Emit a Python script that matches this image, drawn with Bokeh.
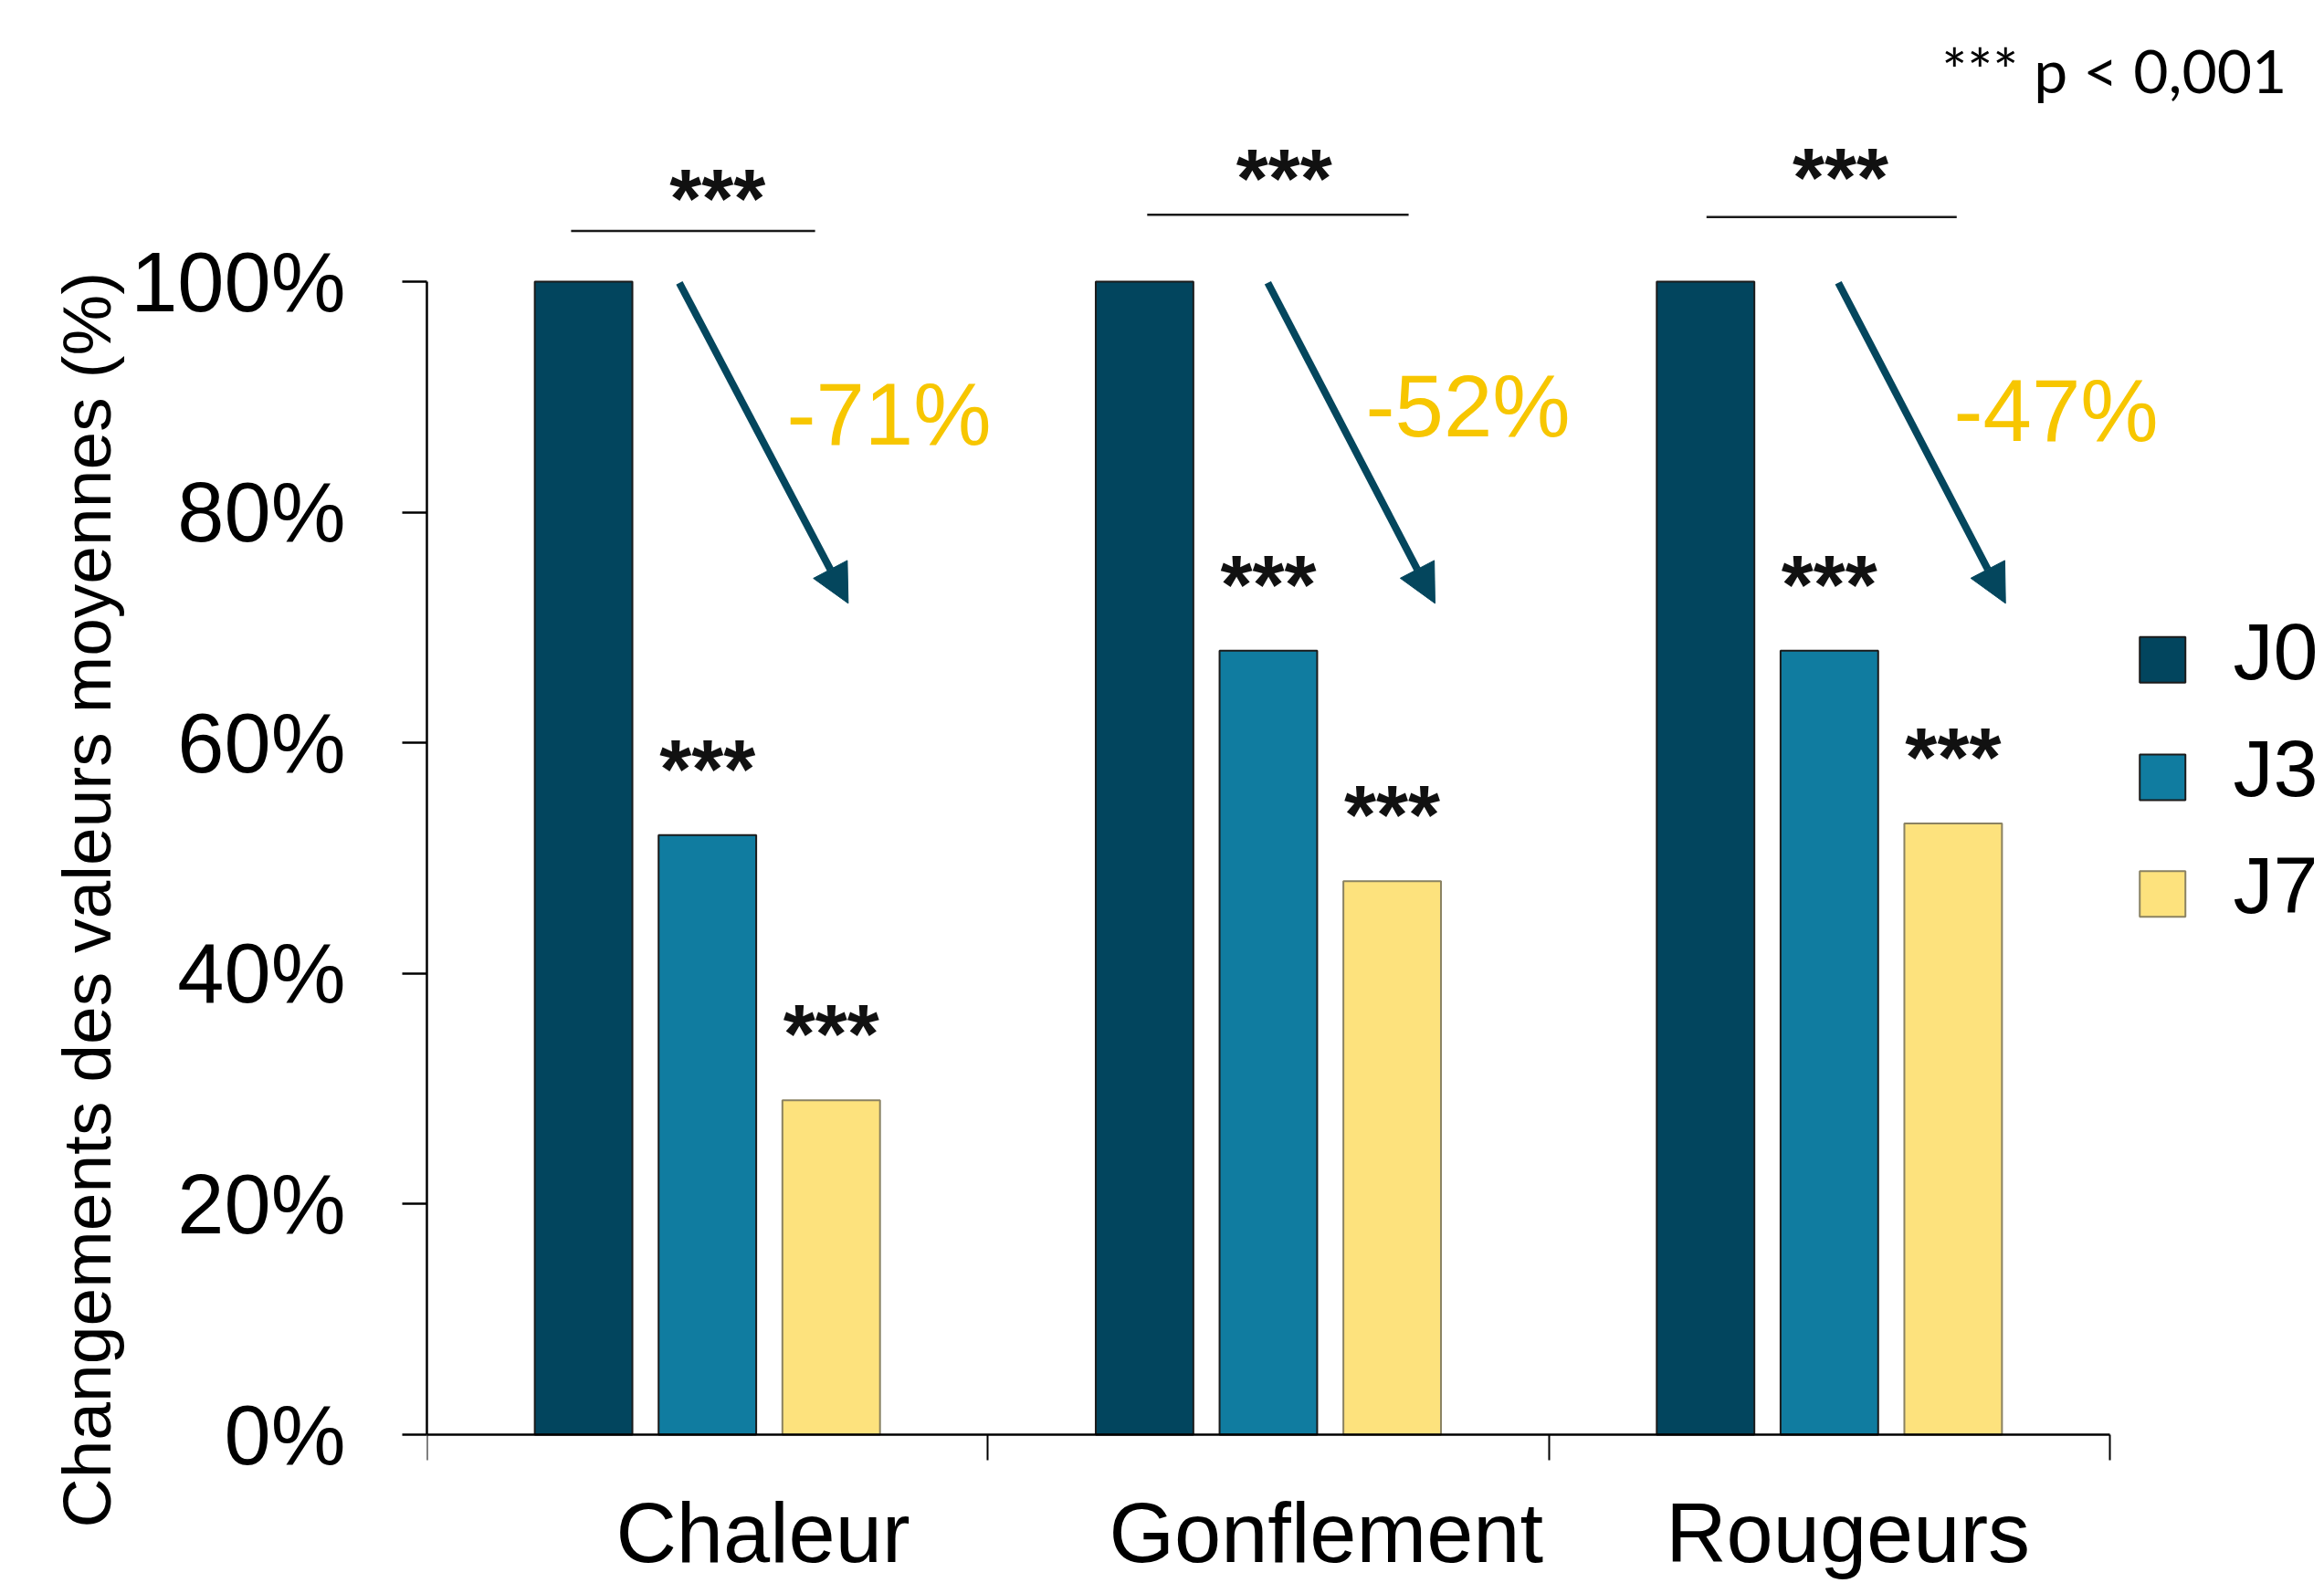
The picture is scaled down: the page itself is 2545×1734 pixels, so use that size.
import math
from bokeh.plotting import figure
from bokeh.models import (Range1d, FixedTicker, PrintfTickFormatter, ColumnDataSource,
                          Arrow, NormalHead, Title)
from bokeh.core.properties import value
from bokeh.embed import file_html
from bokeh.resources import INLINE

# ---------------- data ----------------
categories = ["Chaleur", "Gonflement", "Rougeurs"]
series = ["J0", "J3", "J7"]
j0 = [100, 100, 100]
j3 = [52, 68, 68]
j7 = [29, 48, 53]
y_ticks = [0, 20, 40, 60, 80, 100]
reductions = ["-71%", "-52%", "-47%"]
sig = "***"
p_note = "*** p < 0,001"
y_title = "Changements des valeurs moyennes (%)"

# ---------------- layout ----------------
W, H = 2545, 1734
LEFT = 467            # frame left (y axis line)
X_PX = 614.33         # px per category
Y_PX = 12.63          # px per percent
Y0_PX = 1571          # screen y of 0 %
x_end = (W - LEFT) / X_PX
y_end = Y0_PX / Y_PX
y_start = -(H - Y0_PX) / Y_PX

FONT = "Liberation Sans"
fills = ["#02455E", "#107CA0", "#FDE27D"]
lines = ["#1b1b1b", "#1b1b1b", "#8a8262"]
ARROW = "#04465D"
GOLD = "#F7C600"

p = figure(width=W, height=H, output_backend="svg", toolbar_location=None,
           x_range=Range1d(0, x_end), y_range=Range1d(y_start, y_end),
           min_border_left=LEFT, min_border_right=0, min_border_top=0, min_border_bottom=0,
           outline_line_color=None, background_fill_color="white", border_fill_color="white")
p.title.visible = False
p.xgrid.grid_line_color = None
p.ygrid.grid_line_color = None

# ---------------- bars ----------------
offsets = [-0.2207, 0.0, 0.2207]
BAR_W = 0.174
values = [j0, j3, j7]
for k, name in enumerate(series):
    xs = [i + 0.5 + offsets[k] for i in range(len(categories))]
    p.vbar(x=xs, top=values[k], bottom=0, width=BAR_W,
           fill_color=fills[k], line_color=lines[k], line_width=2)

# significance stars above J3 / J7 bars
star_x, star_y = [], []
for k in (1, 2):
    for i, v in enumerate(values[k]):
        star_x.append(i + 0.5 + offsets[k])
        star_y.append(v + 5.7)
p.text(x=star_x, y=star_y, text=[sig] * len(star_x), text_font=value(FONT),
       text_font_size="90px", text_font_style="bold", text_align="center",
       text_baseline="alphabetic", text_color="#111111")

# top brackets J0 -> J7
bracket_x0 = [0.257, 1.284, 2.281]
bracket_x1 = [0.692, 1.750, 2.727]
bracket_y = [104.4, 105.8, 105.6]
p.segment(x0=bracket_x0, y0=bracket_y, x1=bracket_x1, y1=bracket_y,
          line_color="#1a1a1a", line_width=2.5)
top_star_x = [0.518, 1.528, 2.520]
top_star_y = [107.2, 108.9, 109.0]
p.text(x=top_star_x, y=top_star_y, text=[sig] * 3, text_font=value(FONT),
       text_font_size="90px", text_font_style="bold", text_align="center",
       text_baseline="alphabetic", text_color="#111111")

# reduction arrows
arrow_src = ColumnDataSource(dict(x0=[0.450, 1.499, 2.516], y0=[99.9] * 3,
                                  x1=[0.751, 1.797, 2.814], y1=[72.1] * 3))
p.add_layout(Arrow(end=NormalHead(size=42, fill_color=ARROW, line_color=ARROW, line_width=1),
                   x_start="x0", y_start="y0", x_end="x1", y_end="y1", source=arrow_src,
                   line_color=ARROW, line_width=8))

# reduction labels
red_x = [0.6413, 1.6734, 2.7217]
red_y = [88.5, 89.2, 88.8]
p.text(x=red_x, y=red_y, text=reductions, text_font=value(FONT), text_font_size="96px",
       text_align="left", text_baseline="alphabetic", text_color=GOLD)

# legend (drawn from the series lists)
legend_y = [67.2, 57.0, 46.9]
p.scatter(x=[3.094] * 3, y=legend_y, marker="square", size=50,
          fill_color=fills, line_color=lines, line_width=2)
p.text(x=[3.2198] * 3, y=[v + 0.76 for v in legend_y], text=series,
       text_font=value(FONT), text_font_size="88px", text_align="left",
       text_baseline="alphabetic", text_color="#000000")

# p-value note
p.text(x=[2.7], y=[118.4], text=[p_note], text_font=value("Lato"), text_font_size="66px",
       text_align="left", text_baseline="alphabetic", text_color="#000000")

# y title (left side, anchored near the bottom)
p.add_layout(Title(text=y_title, align="left", offset=61, text_font=FONT,
                   text_font_size="75px", text_font_style="normal",
                   text_color="#000000", standoff=8), "left")

# ---------------- axes ----------------
yaxis = p.yaxis[0]
yaxis.ticker = FixedTicker(ticks=y_ticks)
yaxis.formatter = PrintfTickFormatter(format="%d%%")
yaxis.bounds = (0, 100)
yaxis.major_tick_out = 27
yaxis.major_tick_in = 0
yaxis.minor_tick_out = 0
yaxis.minor_tick_in = 0
yaxis.major_label_standoff = 62
yaxis.major_label_text_font = FONT
yaxis.major_label_text_font_size = "92px"
yaxis.major_label_text_color = "#000000"
yaxis.axis_line_width = 2.5
yaxis.axis_line_color = "#000000"
yaxis.major_tick_line_width = 2.5
yaxis.major_tick_line_color = "#000000"

label_pos = [0.599, 1.603, 2.533]
xaxis = p.xaxis[0]
xaxis.fixed_location = 0
xaxis.bounds = (0, len(categories))
xaxis.ticker = FixedTicker(ticks=label_pos, minor_ticks=list(range(len(categories) + 1)))
xaxis.major_label_overrides = {lp: c for lp, c in zip(label_pos, categories)}
xaxis.major_tick_out = 0
xaxis.major_tick_in = 0
xaxis.minor_tick_out = 28
xaxis.minor_tick_in = 0
xaxis.minor_tick_line_width = 2
xaxis.minor_tick_line_color = "#000000"
xaxis.major_label_standoff = 28
xaxis.major_label_text_font = FONT
xaxis.major_label_text_font_size = "92px"
xaxis.major_label_text_color = "#000000"
xaxis.axis_line_width = 2.5
xaxis.axis_line_color = "#000000"

open("out.html", "w").write(file_html(p, INLINE))
